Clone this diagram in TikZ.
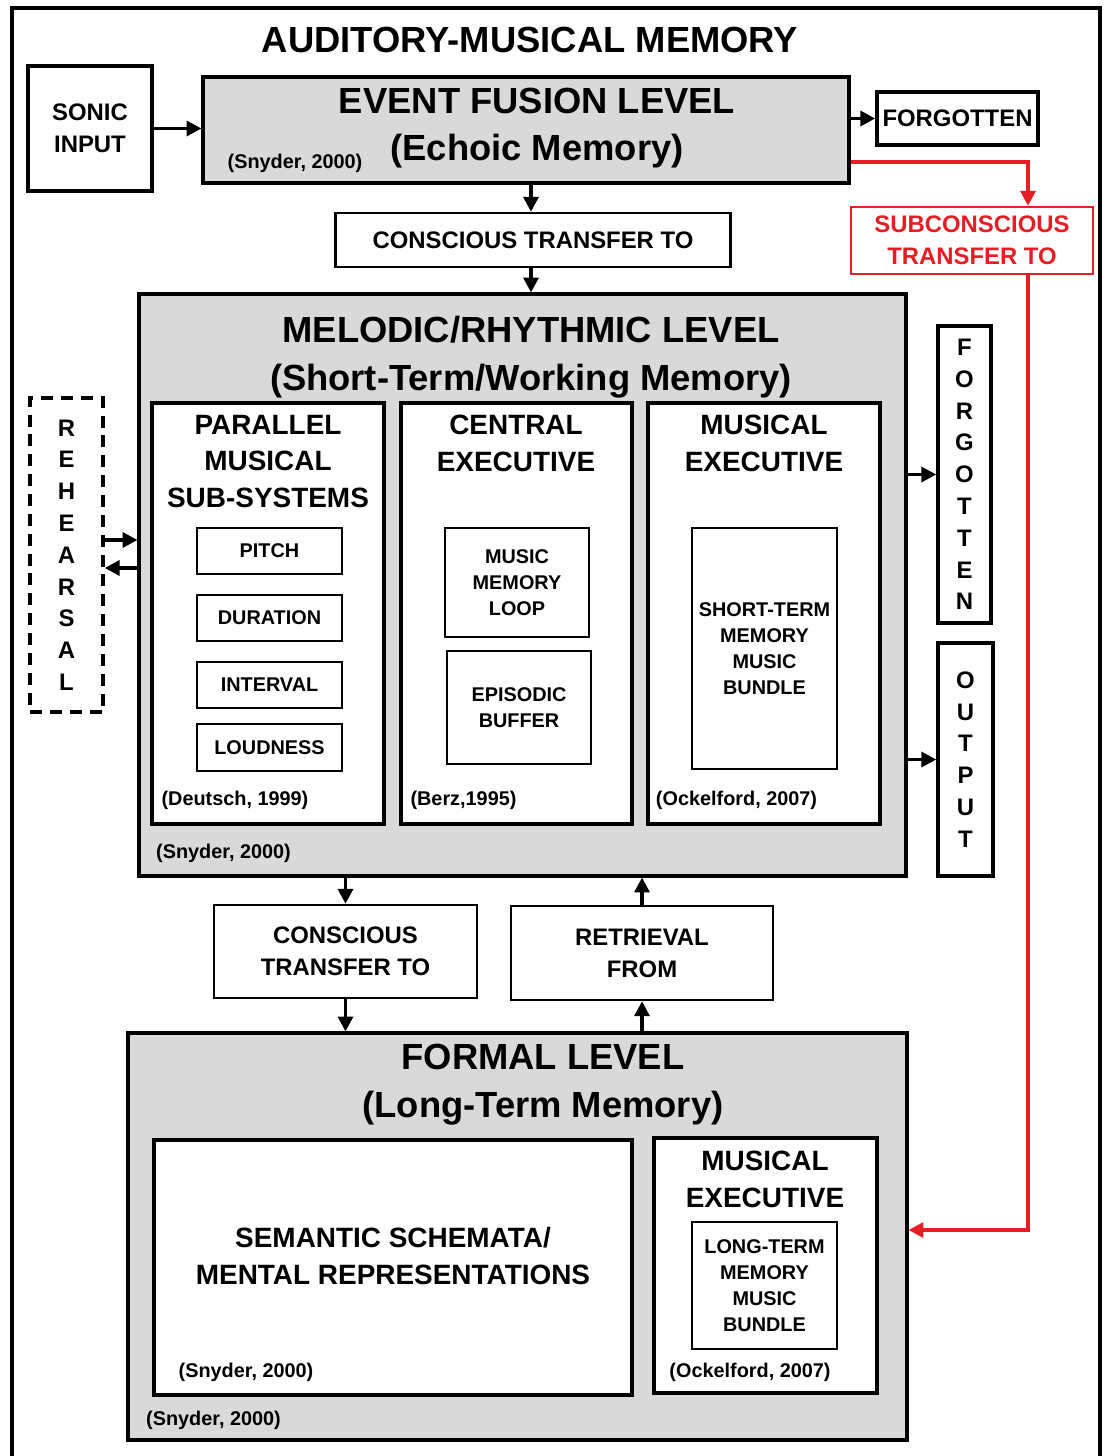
\documentclass[tikz,border=0pt]{standalone}
\usepackage{fontspec}
\setmainfont{Liberation Sans}
\usetikzlibrary{arrows.meta}
\begin{document}
\begin{tikzpicture}[x=0.02cm,y=-0.02cm,font=\bfseries,>={Triangle[length=8.5pt,width=8.5pt]}]
  \definecolor{shade}{HTML}{D9D9D9}
  \definecolor{alert}{HTML}{E31E24}
  \tikzset{
    layer/.style={draw,line width=1.8pt,fill=shade,inner sep=0pt},
    panel/.style={draw,line width=2pt,fill=white,inner sep=0pt},
    box/.style={draw,line width=1.4pt,fill=white,align=center,inner sep=0pt,font=\fontsize{13.6}{18.1}\selectfont\bfseries},
    tag/.style={draw,line width=1.1pt,fill=white,align=center,inner sep=0pt,font=\fontsize{11.3}{14.7}\selectfont\bfseries},
    bigtext/.style={align=center,font=\fontsize{20.7}{27.2}\selectfont\bfseries},
    midtext/.style={align=center,font=\fontsize{15.9}{20.7}\selectfont\bfseries},
    citetext/.style={font=\fontsize{11.3}{14}\selectfont\bfseries},
    link/.style={->,line width=2pt}
  }
  \useasboundingbox (0,0) rectangle (1109,1456);
  \draw[line width=2.8pt] (12,1480) -- (12,8) -- (1100,8) -- (1100,1480);
  \node[bigtext] (title) at (530,40) {AUDITORY-MUSICAL MEMORY};
  \node[box,line width=2pt,minimum width=2.48cm,minimum height=2.5cm] (sonic) at (90,128.5) {SONIC\\INPUT};
  \node[layer,minimum width=12.92cm,minimum height=2.12cm] (fusion) at (526,130) {};
  \node[bigtext] (fusiontitle) at (537,128) {EVENT FUSION LEVEL\\(Echoic Memory)};
  \node[citetext] (fusioncite) at (295,163) {(Snyder, 2000)};
  \node[box,line width=2pt,minimum width=3.22cm,minimum height=1.06cm] (forgottop) at (957.5,118.5) {FORGOTTEN};
  \node[box,draw=alert,text=alert,minimum width=4.84cm,minimum height=1.34cm] (subcon) at (972,240.5) {SUBCONSCIOUS\\TRANSFER TO};
  \node[box,minimum width=7.9cm,minimum height=1.08cm] (ctransa) at (533,240) {CONSCIOUS TRANSFER TO};
  \node[layer,minimum width=15.34cm,minimum height=11.64cm] (melodic) at (522.5,585) {};
  \node[bigtext] (melodictitle) at (531,357) {MELODIC/RHYTHMIC LEVEL\\(Short-Term/Working Memory)};
  \node[citetext] (melodiccite) at (223.5,853) {(Snyder, 2000)};
  \node[panel,minimum width=4.64cm,minimum height=8.42cm] (parallel) at (268,613.5) {};
  \node[panel,minimum width=4.62cm,minimum height=8.42cm] (central) at (516.5,613.5) {};
  \node[panel,minimum width=4.64cm,minimum height=8.42cm] (stexec) at (764,613.5) {};
  \node[midtext] (paralleltitle) at (268,461.5) {PARALLEL\\MUSICAL\\SUB-SYSTEMS};
  \node[midtext] (centraltitle) at (516,443.5) {CENTRAL\\EXECUTIVE};
  \node[midtext] (stexectitle) at (764,443.5) {MUSICAL\\EXECUTIVE};
  \node[tag,minimum width=2.9cm,minimum height=0.92cm] (pitch) at (269.5,551) {PITCH};
  \node[tag,minimum width=2.9cm,minimum height=0.92cm] (duration) at (269.5,618) {DURATION};
  \node[tag,minimum width=2.9cm,minimum height=0.92cm] (interval) at (269.5,685) {INTERVAL};
  \node[tag,minimum width=2.9cm,minimum height=0.94cm] (loudness) at (269.5,747.5) {LOUDNESS};
  \node[tag,minimum width=2.88cm,minimum height=2.18cm] (loop) at (517,582.5) {MUSIC\\MEMORY\\LOOP};
  \node[tag,minimum width=2.88cm,minimum height=2.26cm] (episodic) at (519,707.5) {EPISODIC\\BUFFER};
  \node[tag,minimum width=2.9cm,minimum height=4.82cm] (stbundle) at (764.5,648.5) {SHORT-TERM\\MEMORY\\MUSIC\\BUNDLE};
  \node[citetext] (deutschcite) at (235,800) {(Deutsch, 1999)};
  \node[citetext] (berzcite) at (463.5,800) {(Berz,1995)};
  \node[citetext] (stexeccite) at (736.5,800) {(Ockelford, 2007)};
  \node[box,fill=none,line width=1.9pt,dash pattern=on 6.8pt off 4.5pt,minimum width=1.46cm,minimum height=6.28cm] (rehearsal) at (66.5,555) {R\\E\\H\\E\\A\\R\\S\\A\\L};
  \node[box,line width=2pt,minimum width=1.06cm,minimum height=5.94cm] (forgotside) at (964.5,474.5) {F\\O\\R\\G\\O\\T\\T\\E\\N};
  \node[box,line width=2pt,minimum width=1.1cm,minimum height=4.66cm] (output) at (965.5,759.5) {O\\U\\T\\P\\U\\T};
  \node[box,minimum width=5.26cm,minimum height=1.86cm] (ctransb) at (345.5,951.5) {CONSCIOUS\\TRANSFER TO};
  \node[box,minimum width=5.24cm,minimum height=1.88cm] (retrieval) at (642,953) {RETRIEVAL\\FROM};
  \node[layer,minimum width=15.58cm,minimum height=8.14cm] (formal) at (517.5,1236.5) {};
  \node[bigtext] (formaltitle) at (543,1085) {FORMAL LEVEL\\(Long-Term Memory)};
  \node[citetext] (formalcite) at (213.5,1420) {(Snyder, 2000)};
  \node[panel,minimum width=9.56cm,minimum height=5.1cm] (semantic) at (393,1267.5) {};
  \node[midtext] (semantictitle) at (393,1256) {SEMANTIC SCHEMATA/\\MENTAL REPRESENTATIONS};
  \node[citetext] (semanticcite) at (246,1372) {(Snyder, 2000)};
  \node[panel,minimum width=4.46cm,minimum height=5.1cm] (ltexec) at (765.5,1265.5) {};
  \node[midtext] (ltexectitle) at (765,1179.5) {MUSICAL\\EXECUTIVE};
  \node[tag,minimum width=2.9cm,minimum height=2.54cm] (ltbundle) at (764.5,1285.5) {LONG-TERM\\MEMORY\\MUSIC\\BUNDLE};
  \node[citetext] (ltexeccite) at (750,1372) {(Ockelford, 2007)};
  \coordinate (redtop) at (1028,162);
  \coordinate (redlow) at (1028,1230);
  \draw[link] (sonic.east) -- (sonic.east -| fusion.west);
  \draw[link] (fusion.east |- forgottop.west) -- (forgottop.west);
  \draw[link] (fusion.south -| 531,0) -- (ctransa.north -| 531,0);
  \draw[link] (ctransa.south -| 531,0) -- (melodic.north -| 531,0);
  \draw[link,alert] (fusion.east |- redtop) -- (redtop) -- (subcon.north -| redtop);
  \draw[link,alert] (subcon.south -| redtop) -- (redlow) -- (formal.east |- redlow);
  \draw[link] (rehearsal.east |- 0,540) -- (melodic.west |- 0,540);
  \draw[link] (melodic.west |- 0,568) -- (rehearsal.east |- 0,568);
  \draw[link] (melodic.east |- forgotside.west) -- (forgotside.west);
  \draw[link] (melodic.east |- output.west) -- (output.west);
  \draw[link] (melodic.south -| ctransb) -- (ctransb.north);
  \draw[link] (ctransb.south) -- (ctransb.south |- formal.north);
  \draw[link] (formal.north -| retrieval) -- (retrieval.south);
  \draw[link] (retrieval.north) -- (retrieval.north |- melodic.south);
\end{tikzpicture}
\end{document}
